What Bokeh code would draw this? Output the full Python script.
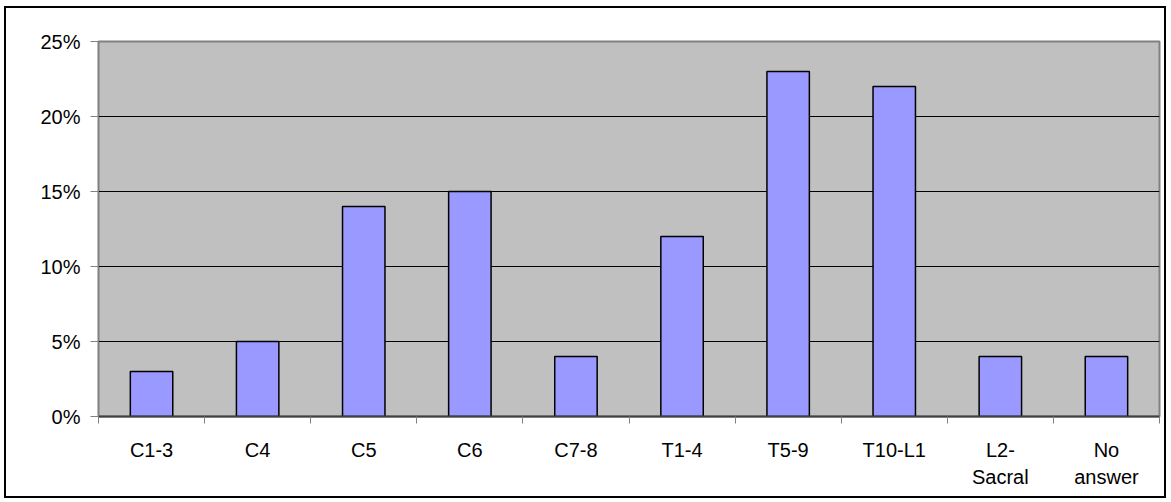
from bokeh.plotting import figure
from bokeh.models import FixedTicker, Range1d, ColumnDataSource, PrintfTickFormatter
from bokeh.embed import file_html
from bokeh.resources import INLINE

categories = ["C1-3", "C4", "C5", "C6", "C7-8", "T1-4", "T5-9", "T10-L1", "L2-\nSacral", "No\nanswer"]
values = [3, 5, 14, 15, 4, 12, 23, 22, 4, 4]
y_ticks = [0, 5, 10, 15, 20, 25]

xs = [i + 0.5 for i in range(len(categories))]
src = ColumnDataSource(dict(x=xs, top=values))

p = figure(width=1162, height=492, output_backend="svg", toolbar_location=None,
           x_range=Range1d(0, len(categories)), y_range=Range1d(0, 25),
           min_border_left=92, min_border_right=9, min_border_top=33, min_border_bottom=84)
p.margin = (6, 0, 0, 4)
p.styles = {"border": "2px solid black"}
p.background_fill_color = "#C0C0C0"
p.border_fill_color = "white"
p.outline_line_color = "#808080"
p.outline_line_width = 2

p.vbar(x="x", top="top", width=0.4, source=src, fill_color="#9999FF",
       line_color="black", line_width=1.5)

p.xgrid.visible = False
p.ygrid.ticker = FixedTicker(ticks=y_ticks)
p.ygrid.grid_line_color = "black"
p.ygrid.grid_line_width = 1

p.yaxis.ticker = FixedTicker(ticks=y_ticks)
p.yaxis.formatter = PrintfTickFormatter(format="%d%%")
p.yaxis.major_tick_in = 0
p.yaxis.major_tick_out = 8
p.yaxis.minor_tick_out = 0
p.yaxis.minor_tick_in = 0
p.yaxis.axis_line_color = "#808080"
p.yaxis.major_tick_line_color = "#808080"
p.yaxis.major_label_standoff = 10
p.yaxis.major_label_text_font = "Liberation Sans"
p.yaxis.major_label_text_font_size = "20px"
p.yaxis.major_label_text_color = "black"

p.xaxis.ticker = FixedTicker(ticks=xs, minor_ticks=list(range(len(categories) + 1)))
p.xaxis.major_label_overrides = {x: c for x, c in zip(xs, categories)}
p.xaxis.major_tick_in = 0
p.xaxis.major_tick_out = 0
p.xaxis.minor_tick_in = 0
p.xaxis.minor_tick_out = 7
p.xaxis.minor_tick_line_color = "#808080"
p.xaxis.axis_line_color = "#404040"
p.xaxis.axis_line_width = 2
p.xaxis.major_label_standoff = 15
p.xaxis.major_label_text_font = "Liberation Sans"
p.xaxis.major_label_text_font_size = "20px"
p.xaxis.major_label_text_line_height = 1.25
p.xaxis.major_label_text_color = "black"

open("out.html", "w").write(file_html(p, INLINE))
